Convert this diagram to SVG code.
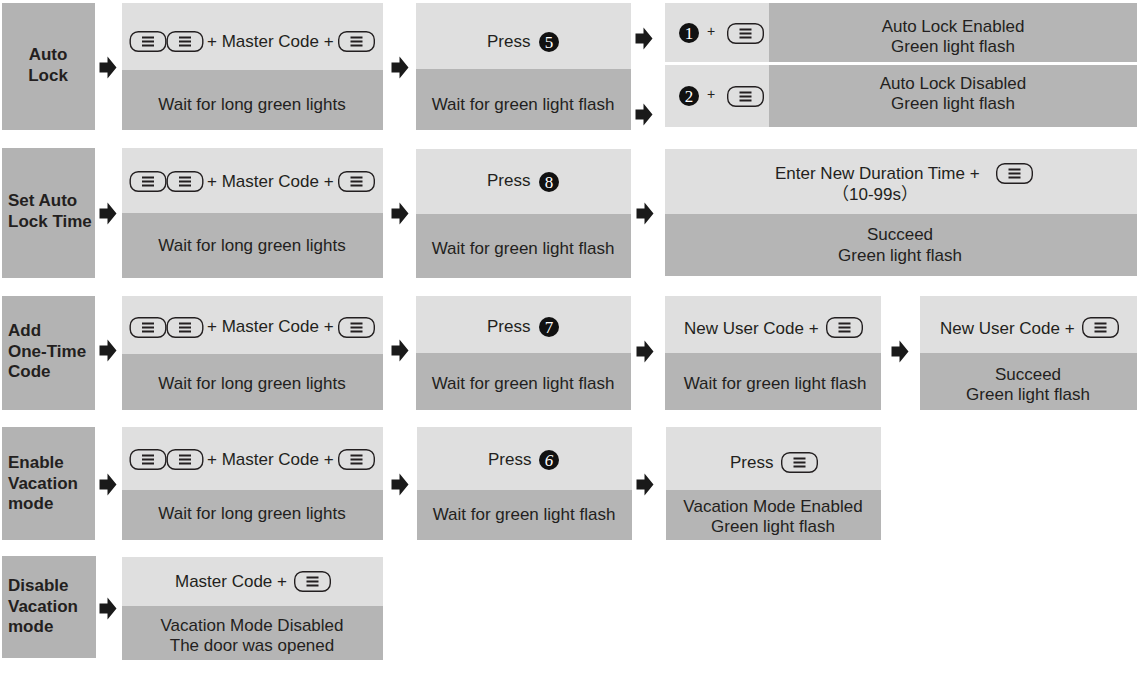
<svg xmlns="http://www.w3.org/2000/svg" xmlns:xlink="http://www.w3.org/1999/xlink" width="1141" height="673" viewBox="0 0 1141 673">
<style>
.lab{fill:#b3b3b3}
.lt{fill:#dfdfdf}
.dk{fill:#b5b5b5}
text{font-family:"Liberation Sans",Arial,sans-serif;font-size:17px;fill:#231f20}
.b{font-weight:bold}
.c{text-anchor:middle}
.num{font-family:"Liberation Serif","Times New Roman",serif;font-size:17px;fill:#fff;text-anchor:middle}
.arr{fill:#1a1a1a}
</style>
<defs>
<symbol id="key" viewBox="0 0 37 21" width="37" height="21" overflow="visible">
<rect x="0.7" y="0.7" width="35.6" height="19.6" rx="8" fill="none" stroke="#231f20" stroke-width="1.4"/>
<path d="M12.5 6.5h12M12.5 10.5h12M12.5 14.5h12" stroke="#231f20" stroke-width="2"/>
</symbol>
<path id="ar" d="M-8.5,-4.5 h8 v-6 l9,11 l-9,11 v-6 h-8 z"/>
</defs>
<rect width="1141" height="673" fill="#fff"/>

<g id="connectors" class="arr">
<use href="#ar" x="108" y="67"/>
<use href="#ar" x="400" y="67"/>
<use href="#ar" x="644" y="38"/>
<use href="#ar" x="644" y="114"/>
<use href="#ar" x="108" y="213"/>
<use href="#ar" x="400" y="213"/>
<use href="#ar" x="645" y="213"/>
<use href="#ar" x="108" y="350"/>
<use href="#ar" x="400" y="350"/>
<use href="#ar" x="645" y="351"/>
<use href="#ar" x="900" y="351"/>
<use href="#ar" x="108" y="484"/>
<use href="#ar" x="400" y="484"/>
<use href="#ar" x="645" y="484"/>
<use href="#ar" x="108" y="608"/>
</g>

<!-- Row 1 -->
<g id="r1-label"><rect class="lab" x="2" y="3" width="93" height="127"/>
<text class="b c" x="48" y="60">Auto</text><text class="b c" x="48" y="81">Lock</text></g>
<g id="r1-s1"><rect class="lt" x="122" y="3" width="261" height="67"/><rect class="dk" x="122" y="70" width="261" height="60"/>
<use href="#key" x="129.5" y="31"/><use href="#key" x="166.5" y="31"/>
<text x="207" y="47">+ Master Code +</text><use href="#key" x="338" y="31"/>
<text class="c" x="252" y="110">Wait for long green lights</text></g>
<g id="r1-s2"><rect class="lt" x="416" y="3" width="215" height="66"/><rect class="dk" x="416" y="69" width="215" height="61"/>
<text x="487" y="47">Press</text><circle cx="549" cy="42" r="10" fill="#111"/><text class="num" x="549" y="48">5</text>
<text class="c" x="523" y="110">Wait for green light flash</text></g>
<g id="r1-s3a"><rect class="lt" x="665" y="3" width="104" height="59"/><rect class="dk" x="769" y="3" width="368" height="59"/>
<circle cx="689" cy="33" r="10" fill="#111"/><text class="num" x="689" y="39">1</text>
<text x="707" y="36" style="font-size:14px">+</text><use href="#key" x="727" y="23"/>
<text class="c" x="953" y="32">Auto Lock Enabled</text><text class="c" x="953" y="52">Green light flash</text></g>
<g id="r1-s3b"><rect class="lt" x="665" y="65" width="104" height="62"/><rect class="dk" x="769" y="65" width="368" height="62"/>
<circle cx="689" cy="96" r="10" fill="#111"/><text class="num" x="689" y="102">2</text>
<text x="707" y="99" style="font-size:14px">+</text><use href="#key" x="727" y="86"/>
<text class="c" x="953" y="89">Auto Lock Disabled</text><text class="c" x="953" y="109">Green light flash</text></g>

<!-- Row 2 -->
<g id="r2-label"><rect class="lab" x="2" y="148" width="93" height="130"/>
<text class="b" x="8" y="206">Set Auto</text><text class="b" x="8" y="227">Lock Time</text></g>
<g id="r2-s1"><rect class="lt" x="122" y="148" width="261" height="65"/><rect class="dk" x="122" y="213" width="261" height="65"/>
<use href="#key" x="129.5" y="171"/><use href="#key" x="166.5" y="171"/>
<text x="207" y="187">+ Master Code +</text><use href="#key" x="338" y="171"/>
<text class="c" x="252" y="251">Wait for long green lights</text></g>
<g id="r2-s2"><rect class="lt" x="416" y="149" width="215" height="65"/><rect class="dk" x="416" y="214" width="215" height="64"/>
<text x="487" y="186">Press</text><circle cx="549" cy="182" r="10" fill="#111"/><text class="num" x="549" y="188">8</text>
<text class="c" x="523" y="254">Wait for green light flash</text></g>
<g id="r2-s3"><rect class="lt" x="665" y="149" width="472" height="65"/><rect class="dk" x="665" y="214" width="472" height="62"/>
<text x="775" y="179">Enter New Duration Time  +</text><use href="#key" x="996" y="163"/>
<text class="c" x="875" y="200" style="font-family:'Liberation Sans','Noto Sans CJK SC',sans-serif">（10-99s）</text>
<text class="c" x="900" y="240">Succeed</text><text class="c" x="900" y="261">Green light flash</text></g>

<!-- Row 3 -->
<g id="r3-label"><rect class="lab" x="2" y="296" width="93" height="114"/>
<text class="b" x="8" y="336">Add</text><text class="b" x="8" y="357">One-Time</text><text class="b" x="8" y="377">Code</text></g>
<g id="r3-s1"><rect class="lt" x="122" y="296" width="261" height="58"/><rect class="dk" x="122" y="354" width="261" height="56"/>
<use href="#key" x="129.5" y="317"/><use href="#key" x="166.5" y="317"/>
<text x="207" y="332">+ Master Code +</text><use href="#key" x="338" y="317"/>
<text class="c" x="252" y="389">Wait for long green lights</text></g>
<g id="r3-s2"><rect class="lt" x="416" y="296" width="215" height="57"/><rect class="dk" x="416" y="353" width="215" height="57"/>
<text x="487" y="332">Press</text><circle cx="549" cy="327" r="10" fill="#111"/><text class="num" x="549" y="333">7</text>
<text class="c" x="523" y="389">Wait for green light flash</text></g>
<g id="r3-s3"><rect class="lt" x="665" y="296" width="216" height="57"/><rect class="dk" x="665" y="353" width="216" height="57"/>
<text x="684" y="334">New User Code +</text><use href="#key" x="826" y="317"/>
<text class="c" x="775" y="389">Wait for green light flash</text></g>
<g id="r3-s4"><rect class="lt" x="920" y="296" width="217" height="57"/><rect class="dk" x="920" y="353" width="217" height="57"/>
<text x="940" y="334">New User Code +</text><use href="#key" x="1082" y="317"/>
<text class="c" x="1028" y="380">Succeed</text><text class="c" x="1028" y="400">Green light flash</text></g>

<!-- Row 4 -->
<g id="r4-label"><rect class="lab" x="2" y="427" width="93" height="113"/>
<text class="b" x="8" y="468">Enable</text><text class="b" x="8" y="489">Vacation</text><text class="b" x="8" y="509">mode</text></g>
<g id="r4-s1"><rect class="lt" x="122" y="427" width="261" height="63"/><rect class="dk" x="122" y="490" width="261" height="50"/>
<use href="#key" x="129.5" y="449"/><use href="#key" x="166.5" y="449"/>
<text x="207" y="465">+ Master Code +</text><use href="#key" x="338" y="449"/>
<text class="c" x="252" y="519">Wait for long green lights</text></g>
<g id="r4-s2"><rect class="lt" x="417" y="427" width="215" height="63"/><rect class="dk" x="417" y="490" width="215" height="50"/>
<text x="488" y="465">Press</text><circle cx="549" cy="460" r="10" fill="#111"/><text class="num" x="549" y="466" font-style="italic">6</text>
<text class="c" x="524" y="520">Wait for green light flash</text></g>
<g id="r4-s3"><rect class="lt" x="666" y="427" width="215" height="63"/><rect class="dk" x="666" y="490" width="215" height="50"/>
<text x="730" y="468">Press</text><use href="#key" x="781" y="452"/>
<text class="c" x="773" y="512">Vacation Mode Enabled</text><text class="c" x="773" y="532">Green light flash</text></g>

<!-- Row 5 -->
<g id="r5-label"><rect class="lab" x="2" y="556" width="94" height="102"/>
<text class="b" x="8" y="591">Disable</text><text class="b" x="8" y="612">Vacation</text><text class="b" x="8" y="632">mode</text></g>
<g id="r5-s1"><rect class="lt" x="122" y="557" width="261" height="49"/><rect class="dk" x="122" y="606" width="261" height="54"/>
<text x="175" y="587">Master Code +</text><use href="#key" x="294" y="571"/>
<text class="c" x="252" y="631">Vacation Mode Disabled</text><text class="c" x="252" y="651">The door was opened</text></g>
</svg>
